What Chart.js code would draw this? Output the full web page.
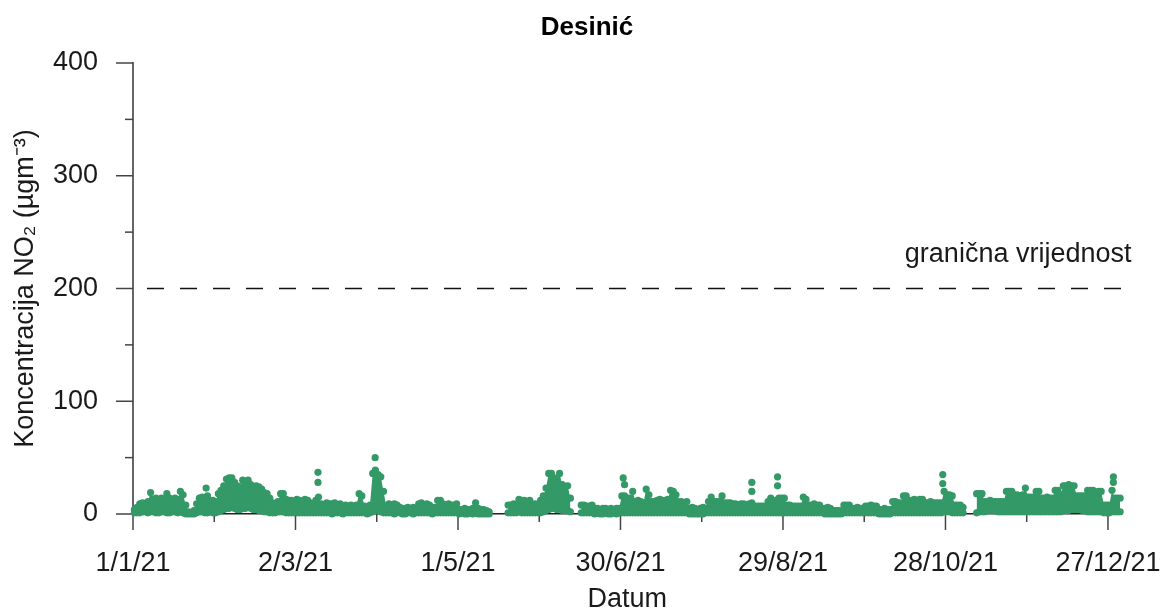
<!DOCTYPE html>
<html>
<head>
<meta charset="utf-8">
<script src="https://cdn.jsdelivr.net/npm/chart.js@4/dist/chart.umd.min.js"></script>
<style>
html,body{margin:0;padding:0;background:#fff;}
#wrap{width:1164px;height:613px;}
</style>
</head>
<body>
<div id="wrap"><canvas id="c" width="1164" height="613"></canvas></div>
<script>
// ---------- DATA ----------
const chartTitle = 'Desinić';
const xAxisTitle = 'Datum';
const yAxisTitle = 'Koncentracija NO₂ (µgm⁻³)';
const xTickDays = [0, 60, 120, 180, 240, 300, 360];
const xTickLabels = ['1/1/21', '2/3/21', '1/5/21', '30/6/21', '29/8/21', '28/10/21', '27/12/21'];
const yTickValues = [0, 100, 200, 300, 400];
const limitValue = 200;
const limitLabel = 'granična vrijednost';

// daily upper envelope of hourly NO2 values (day 0 = 1/1/21), null = no data
const dailyHigh = [
  4, 6, 9, 10, 9, 11, 19, 13, 14, 12,
  14, 13, 18, 14, 12, 14, 13, 20, 17, 8,
  2, 1, 3, 9, 14, 15, 14, 16, 12, 12,
  11, 18, 21, 25, 31, 32, 32, 28, 25, 24,
  30, 29, 30, 26, 24, 25, 24, 22, 19, 18,
  14, 10, 9, 11, 18, 18, 13, 12, 12, 10,
  13, 12, 11, 13, 12, 10, 9, 12, 15, 9,
  8, 10, 9, 9, 10, 8, 9, 7, 8, 7,
  8, 7, 8, 18, 16, 7, 6, 8, 36, 39,
  35, 33, 20, 7, 9, 8, 9, 8, 6, 5,
  5, 6, 5, 6, 5, 9, 10, 8, 9, 8,
  6, 6, 12, 12, 9, 8, 9, 8, 8, 9,
  4, 4, 5, 4, 4, 5, 10, 5, 4, 4,
  3, 2, null, null, null, null, null, null, 8, 8,
  9, 8, 13, 12, 12, 10, 12, 8, 9, 8,
  12, 16, 23, 36, 36, 32, 30, 36, 26, 24,
  25, 14, null, null, null, 8, 8, 7, 7, 8,
  5, 5, 4, 5, 5, 4, 5, 4, 5, 5,
  16, 16, 14, 14, 20, 11, 12, 11, 10, 22,
  17, 11, 11, 12, 13, 12, 12, 13, 21, 20,
  17, 11, 11, 10, 11, 5, 6, 5, 4, 5,
  6, 5, 11, 15, 11, 11, 11, 16, 10, 10,
  10, 9, 9, 8, 9, 9, 8, 9, 10, 7,
  7, 7, 7, 7, 11, 14, 11, 12, 14, 14,
  14, 8, 8, 7, 7, 7, 7, 15, 13, 8,
  8, 9, 8, 8, 5, 5, 6, 5, 3, 3,
  3, 3, 8, 8, 8, 5, 5, 6, 5, 5,
  7, 7, 8, 7, 7, 4, 4, 5, 4, 4,
  11, 11, 10, 10, 16, 16, 12, 12, 13, 12,
  13, 13, 10, 10, 11, 10, 10, 10, 10, 20,
  17, 17, 16, 8, 8, 8, 6, null, null, null,
  null, 18, 18, 18, 11, 11, 12, 11, 11, 11,
  11, 11, 20, 20, 20, 17, 17, 16, 17, 23,
  15, 15, 15, 20, 20, 14, 14, 15, 14, 14,
  21, 21, 17, 25, 25, 26, 25, 25, 16, 16,
  16, 16, 21, 21, 21, 16, 20, 20, 8, 8,
  8, 21, 14, 14, 14
];

// daily lower envelope
const dailyLow = [
  1, 1, 1, 2, 2, 1, 2, 2, 1, 1,
  2, 2, 1, 1, 2, 2, 1, 2, 1, 0,
  0, 0, 0, 1, 2, 2, 1, 1, 2, 1,
  1, 2, 3, 4, 5, 5, 6, 5, 4, 4,
  5, 5, 6, 5, 4, 4, 3, 3, 2, 2,
  1, 1, 1, 2, 2, 2, 1, 1, 1, 1,
  1, 1, 1, 1, 1, 1, 1, 1, 1, 1,
  1, 1, 1, 0, 1, 1, 1, 0, 1, 1,
  1, 1, 1, 1, 1, 1, 0, 1, 2, 3,
  3, 2, 1, 1, 1, 1, 0, 1, 1, 0,
  0, 1, 1, 0, 1, 1, 1, 1, 1, 1,
  0, 1, 1, 1, 1, 1, 1, 1, 1, 1,
  0, 1, 0, 0, 1, 0, 1, 0, 0, 0,
  0, 0, null, null, null, null, null, null, 1, 1,
  1, 1, 2, 1, 1, 1, 1, 1, 1, 1,
  1, 2, 3, 4, 5, 5, 4, 5, 3, 3,
  3, 2, null, null, null, 1, 1, 1, 1, 1,
  0, 1, 0, 0, 1, 0, 0, 1, 0, 1,
  1, 1, 1, 1, 1, 1, 1, 1, 1, 1,
  1, 1, 1, 1, 1, 1, 1, 1, 1, 1,
  1, 1, 1, 1, 1, 0, 0, 0, 0, 0,
  0, 1, 1, 1, 1, 1, 1, 1, 1, 1,
  1, 1, 1, 1, 1, 1, 1, 1, 1, 1,
  1, 1, 1, 1, 1, 1, 1, 1, 1, 1,
  1, 1, 1, 1, 1, 1, 1, 1, 1, 1,
  1, 1, 1, 1, 1, 0, 0, 0, 0, 0,
  0, 0, 1, 1, 1, 1, 1, 1, 1, 1,
  1, 1, 1, 1, 1, 0, 0, 0, 0, 0,
  1, 1, 1, 1, 1, 1, 1, 1, 1, 1,
  1, 1, 1, 1, 1, 1, 1, 1, 1, 2,
  2, 2, 1, 1, 1, 1, 1, null, null, null,
  null, 1, 2, 2, 2, 3, 3, 3, 3, 2,
  2, 2, 2, 2, 2, 2, 2, 2, 2, 2,
  2, 2, 2, 2, 2, 2, 2, 2, 2, 2,
  2, 2, 2, 3, 3, 3, 4, 4, 4, 4,
  3, 3, 2, 2, 2, 2, 2, 2, 1, 1,
  1, 2, 2, 2, 2
];

// isolated high hourly values (day of year, value)
const spikeDays   = [27, 68.3, 68.3, 89.4, 181, 181.5, 228.5, 228.5, 238, 238, 299, 299, 362, 362];
const spikeValues = [23, 37,   28,   50,   32,  26,    28,    20,    33,  25,  35,  27,  33,  28];

// ---------- STYLE ----------
const GREEN = '#339966';
const FONT = "'Liberation Sans', Arial, Helvetica, sans-serif";
const TEXT = '#1a1a1a';
const yMinorStep = 50;
const xMinorStep = 30;
const xMax = 365;

const toPts = (arr) => arr.map((v, i) => ({ x: i + 0.5, y: v }));

const decor = {
  id: 'decor',
  beforeDatasetsDraw(chart) {
    const { ctx, chartArea, scales: { x, y } } = chart;
    ctx.save();
    ctx.strokeStyle = '#444';
    ctx.lineWidth = 1.5;
    for (let v = 0; v <= 400; v += yMinorStep) {
      const py = y.getPixelForValue(v);
      const len = v % 100 === 0 ? 17 : 8;
      ctx.beginPath();
      ctx.moveTo(chartArea.left - len, py);
      ctx.lineTo(chartArea.left, py);
      ctx.stroke();
    }
    for (let d = 0; d <= 360; d += xMinorStep) {
      const px = x.getPixelForValue(d);
      const len = d % 60 === 0 ? 16 : 8;
      ctx.beginPath();
      ctx.moveTo(px, chartArea.bottom);
      ctx.lineTo(px, chartArea.bottom + len);
      ctx.stroke();
    }
    ctx.restore();
  },
  afterDraw(chart) {
    const { ctx, scales: { x, y } } = chart;
    ctx.save();
    ctx.fillStyle = '#000';
    ctx.font = 'bold 26px ' + FONT;
    ctx.textAlign = 'center';
    ctx.textBaseline = 'middle';
    ctx.fillText(chartTitle, 587, 28);
    ctx.fillStyle = TEXT;
    ctx.font = '27px ' + FONT;
    ctx.textAlign = 'left';
    ctx.textBaseline = 'alphabetic';
    ctx.fillText(limitLabel, x.getPixelForValue(285), y.getPixelForValue(limitValue) - 27);
    ctx.restore();
  }
};

new Chart(document.getElementById('c'), {
  type: 'scatter',
  data: {
    datasets: [
      {
        type: 'line',
        data: toPts(dailyHigh),
        borderWidth: 0,
        borderColor: 'rgba(0,0,0,0)',
        backgroundColor: GREEN,
        pointBackgroundColor: GREEN,
        pointBorderWidth: 0,
        pointRadius: 3.6,
        fill: '+1',
        spanGaps: false,
        tension: 0,
        clip: false
      },
      {
        type: 'line',
        data: toPts(dailyLow),
        borderWidth: 0,
        borderColor: 'rgba(0,0,0,0)',
        backgroundColor: GREEN,
        pointBackgroundColor: GREEN,
        pointBorderWidth: 0,
        pointRadius: 3.6,
        fill: false,
        spanGaps: false,
        tension: 0,
        clip: false
      },
      {
        type: 'scatter',
        data: spikeDays.map((d, i) => ({ x: d, y: spikeValues[i] })),
        backgroundColor: GREEN,
        borderWidth: 0,
        pointRadius: 3.6,
        clip: false
      },
      {
        type: 'line',
        data: [{ x: 0, y: limitValue }, { x: xMax, y: limitValue }],
        borderColor: '#111',
        borderWidth: 1.5,
        borderDash: [17, 16],
        borderDashOffset: 19,
        pointRadius: 0,
        fill: false
      }
    ]
  },
  options: {
    responsive: false,
    animation: false,
    events: [],
    layout: { padding: { top: 63, left: 0, right: 42.5, bottom: 0 } },
    plugins: {
      legend: { display: false },
      tooltip: { enabled: false },
      title: { display: false }
    },
    scales: {
      x: {
        type: 'linear',
        min: 0,
        max: xMax,
        grid: { display: false },
        border: { display: true, color: '#222', width: 1.5 },
        afterBuildTicks: (scale) => { scale.ticks = xTickDays.map(v => ({ value: v })); },
        afterFit: (scale) => { scale.height = 99; scale.paddingLeft = 0; scale.paddingRight = 0; },
        ticks: {
          autoSkip: false,
          maxRotation: 0,
          padding: 25,
          color: TEXT,
          font: { family: FONT, size: 27 },
          callback: (v) => { const i = xTickDays.indexOf(v); return i >= 0 ? xTickLabels[i] : ''; }
        },
        title: {
          display: true,
          text: xAxisTitle,
          color: TEXT,
          font: { family: FONT, size: 27, lineHeight: 1 },
          padding: { top: 0, bottom: 0 }
        }
      },
      y: {
        type: 'linear',
        min: 0,
        max: 400,
        grid: { display: false },
        border: { display: true, color: '#666', width: 2 },
        afterBuildTicks: (scale) => { scale.ticks = yTickValues.map(v => ({ value: v })); },
        afterFit: (scale) => { scale.width = 133; scale.paddingTop = 0; scale.paddingBottom = 0; },
        ticks: {
          padding: 27,
          color: TEXT,
          font: { family: FONT, size: 27 }
        },
        title: {
          display: true,
          text: yAxisTitle,
          color: TEXT,
          font: { family: FONT, size: 27 },
          padding: { top: 9, bottom: 0 }
        }
      }
    }
  },
  plugins: [decor]
});
</script>
</body>
</html>
